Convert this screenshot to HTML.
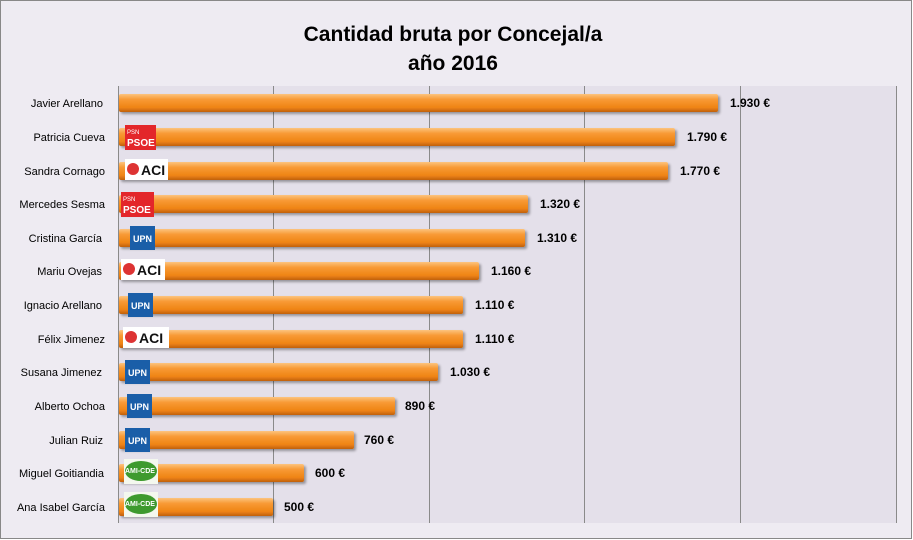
<!DOCTYPE html>
<html><head><meta charset="utf-8"><style>
html,body{margin:0;padding:0;background:#fff}
svg{display:block;font-family:"Liberation Sans","DejaVu Sans",sans-serif}
</style></head><body>
<svg width="913" height="540" viewBox="0 0 913 540" xmlns="http://www.w3.org/2000/svg">
<defs>
<linearGradient id="bar" x1="0" y1="0" x2="0" y2="1">
<stop offset="0" stop-color="#fcc47e"/>
<stop offset="0.3" stop-color="#f89a35"/>
<stop offset="0.75" stop-color="#ef8414"/>
<stop offset="1" stop-color="#c0600f"/>
</linearGradient>
<filter id="sh" x="-5%" y="-20%" width="110%" height="160%">
<feDropShadow dx="2" dy="2" stdDeviation="1.2" flood-color="#000" flood-opacity="0.35"/>
</filter>
</defs>
<rect x="0.5" y="0.5" width="911" height="538" fill="#eeebf2" stroke="#888"/>
<rect x="118" y="86" width="778" height="437" fill="#e4e0ea"/>
<g stroke="#8a8a8a" stroke-width="1">
<line x1="118.5" y1="86" x2="118.5" y2="523"/>
<line x1="273.5" y1="86" x2="273.5" y2="523"/>
<line x1="429.5" y1="86" x2="429.5" y2="523"/>
<line x1="584.5" y1="86" x2="584.5" y2="523"/>
<line x1="740.5" y1="86" x2="740.5" y2="523"/>
<line x1="896.5" y1="86" x2="896.5" y2="523"/>
</g>
<text x="453" y="41" text-anchor="middle" font-size="21" font-weight="bold" fill="#000">Cantidad bruta  por Concejal/a</text>
<text x="453" y="70" text-anchor="middle" font-size="21" font-weight="bold" fill="#000">año 2016</text>
<g font-size="11" text-anchor="end" fill="#000">
<text x="103" y="107">Javier Arellano</text>
<text x="105" y="141">Patricia Cueva</text>
<text x="105" y="175">Sandra Cornago</text>
<text x="105" y="208">Mercedes Sesma</text>
<text x="102" y="242">Cristina García</text>
<text x="102" y="275">Mariu Ovejas</text>
<text x="102" y="309">Ignacio Arellano</text>
<text x="105" y="343">Félix Jimenez</text>
<text x="102" y="376">Susana Jimenez</text>
<text x="105" y="410">Alberto Ochoa</text>
<text x="103" y="444">Julian Ruiz</text>
<text x="104" y="477">Miguel Goitiandia</text>
<text x="105" y="511">Ana Isabel García</text>
</g>
<g fill="url(#bar)" filter="url(#sh)">
<rect x="119" y="94" width="599" height="18" rx="2"/>
<rect x="119" y="128" width="556" height="18" rx="2"/>
<rect x="119" y="162" width="549" height="18" rx="2"/>
<rect x="119" y="195" width="409" height="18" rx="2"/>
<rect x="119" y="229" width="406" height="18" rx="2"/>
<rect x="119" y="262" width="360" height="18" rx="2"/>
<rect x="119" y="296" width="344" height="18" rx="2"/>
<rect x="119" y="330" width="344" height="18" rx="2"/>
<rect x="119" y="363" width="319" height="18" rx="2"/>
<rect x="119" y="397" width="276" height="18" rx="2"/>
<rect x="119" y="431" width="235" height="18" rx="2"/>
<rect x="119" y="464" width="185" height="18" rx="2"/>
<rect x="119" y="498" width="154" height="18" rx="2"/>
</g>
<g font-size="12" font-weight="bold" fill="#000">
<text x="730" y="107">1.930 €</text>
<text x="687" y="141">1.790 €</text>
<text x="680" y="175">1.770 €</text>
<text x="540" y="208">1.320 €</text>
<text x="537" y="242">1.310 €</text>
<text x="491" y="275">1.160 €</text>
<text x="475" y="309">1.110 €</text>
<text x="475" y="343">1.110 €</text>
<text x="450" y="376">1.030 €</text>
<text x="405" y="410">890 €</text>
<text x="364" y="444">760 €</text>
<text x="315" y="477">600 €</text>
<text x="284" y="511">500 €</text>
</g>
<g>
<rect x="125" y="125" width="31" height="25" fill="#e3262a"/>
<text x="127" y="134" font-size="6" fill="#fff">PSN</text>
<text x="127" y="146" font-size="10" font-weight="bold" fill="#fff">PSOE</text>
<rect x="121" y="192" width="33" height="25" fill="#e3262a"/>
<text x="123" y="201" font-size="6" fill="#fff">PSN</text>
<text x="123" y="213" font-size="10" font-weight="bold" fill="#fff">PSOE</text>
</g>
<g font-size="14" font-weight="bold" fill="#111">
<rect x="125" y="159" width="43" height="21" fill="#fff"/><circle cx="133" cy="169" r="6" fill="#d33"/><text x="141" y="175">ACI</text>
<rect x="121" y="259" width="44" height="21" fill="#fff"/><circle cx="129" cy="269" r="6" fill="#d33"/><text x="137" y="275">ACI</text>
<rect x="123" y="327" width="46" height="21" fill="#fff"/><circle cx="131" cy="337" r="6" fill="#d33"/><text x="139" y="343">ACI</text>
</g>
<g font-size="9" font-weight="bold" fill="#fff">
<rect x="130" y="226" width="25" height="24" fill="#1a5ea8"/><text x="133" y="242">UPN</text>
<rect x="128" y="293" width="25" height="24" fill="#1a5ea8"/><text x="131" y="309">UPN</text>
<rect x="125" y="360" width="25" height="24" fill="#1a5ea8"/><text x="128" y="376">UPN</text>
<rect x="127" y="394" width="25" height="24" fill="#1a5ea8"/><text x="130" y="410">UPN</text>
<rect x="125" y="428" width="25" height="24" fill="#1a5ea8"/><text x="128" y="444">UPN</text>
</g>
<g font-size="7" font-weight="bold" fill="#fff">
<rect x="124" y="459" width="34" height="25" fill="#f4f8ee"/><ellipse cx="141" cy="471" rx="16" ry="10" fill="#3e9a2e"/><text x="125" y="473">AMI-CDE</text>
<rect x="124" y="492" width="34" height="25" fill="#f4f8ee"/><ellipse cx="141" cy="504" rx="16" ry="10" fill="#3e9a2e"/><text x="125" y="506">AMI-CDE</text>
</g>
</svg>
</body></html>
